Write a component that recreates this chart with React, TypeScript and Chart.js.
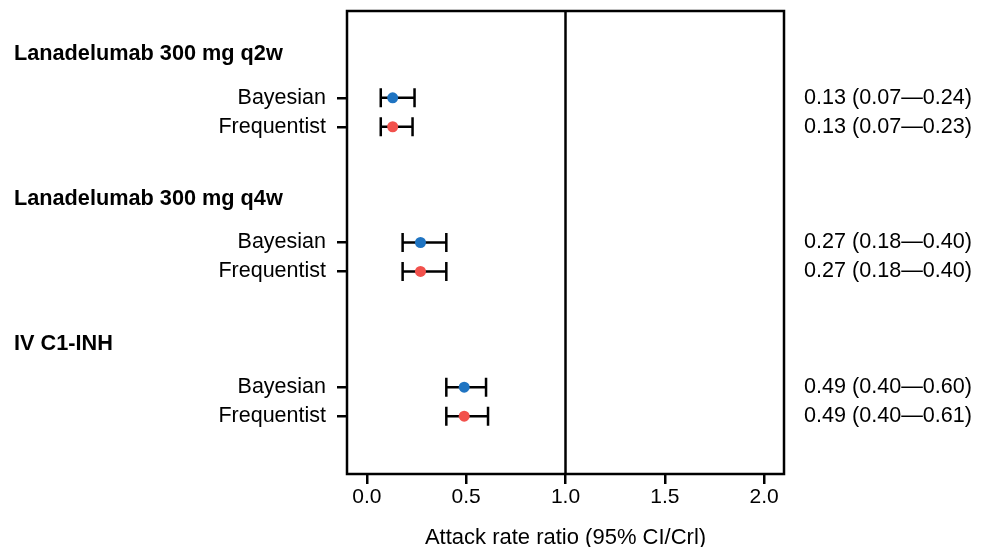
import React, { useEffect, useRef } from "react";
import { Chart, registerables } from "chart.js";

Chart.register(...registerables);

const groups = ["Lanadelumab 300 mg q2w", "Lanadelumab 300 mg q4w", "IV C1-INH"];
const methods = ["Bayesian", "Frequentist"];
const bayesEst = [0.13, 0.27, 0.49];
const bayesLo = [0.07, 0.18, 0.4];
const bayesHi = [0.24, 0.4, 0.6];
const freqEst = [0.13, 0.27, 0.49];
const freqLo = [0.07, 0.18, 0.4];
const freqHi = [0.23, 0.4, 0.61];
const xTicks = [0, 0.5, 1, 1.5, 2];
const xTitle = "Attack rate ratio (95% CI/Crl)";

const FONT = "'Liberation Sans', Arial, Helvetica, sans-serif";
const BLUE = "#1f74c2";
const RED = "#f2514c";

const groupRow = (g: number) => g * 5 + 1.5;
const methodRow = (g: number, m: number) => g * 5 + 3 + m;

type Pt = { x: number; y: number; lo: number; hi: number; label: string };

function buildPoints(est: number[], lo: number[], hi: number[], m: number): Pt[] {
  return est.map((e, g) => ({
    x: e,
    y: methodRow(g, m),
    lo: lo[g],
    hi: hi[g],
    label: `${e.toFixed(2)} (${lo[g].toFixed(2)}\u2014${hi[g].toFixed(2)})`,
  }));
}

const forestPlugin = {
  id: "forest",
  beforeDatasetsDraw(chart: any) {
    const { ctx, chartArea, scales } = chart;
    const xs = scales.x;
    const ys = scales.y;
    ctx.save();
    ctx.strokeStyle = "#000";
    ctx.lineWidth = 2.5;
    ctx.beginPath();
    const x1 = xs.getPixelForValue(1);
    ctx.moveTo(x1, chartArea.top);
    ctx.lineTo(x1, chartArea.bottom);
    ctx.stroke();
    ctx.lineWidth = 2.5;
    chart.data.datasets.forEach((ds: any) => {
      ds.data.forEach((p: Pt) => {
        const y = ys.getPixelForValue(p.y);
        const a = xs.getPixelForValue(p.lo);
        const b = xs.getPixelForValue(p.hi);
        ctx.beginPath();
        ctx.moveTo(a, y);
        ctx.lineTo(b, y);
        ctx.moveTo(a, y - 9.5);
        ctx.lineTo(a, y + 9.5);
        ctx.moveTo(b, y - 9.5);
        ctx.lineTo(b, y + 9.5);
        ctx.stroke();
      });
    });
    ctx.restore();
  },
  afterDraw(chart: any) {
    const { ctx, chartArea, scales } = chart;
    const ys = scales.y;
    ctx.save();
    ctx.strokeStyle = "#000";
    ctx.lineWidth = 2.5;
    ctx.strokeRect(chartArea.left, chartArea.top, chartArea.right - chartArea.left, chartArea.bottom - chartArea.top);
    ctx.fillStyle = "#000";
    ctx.textBaseline = "middle";
    ctx.textAlign = "left";
    ctx.font = `bold 21.7px ${FONT}`;
    groups.forEach((g, i) => {
      ctx.fillText(g, 14, ys.getPixelForValue(groupRow(i)));
    });
    ctx.font = `21.6px ${FONT}`;
    chart.data.datasets.forEach((ds: any) => {
      ds.data.forEach((p: Pt) => {
        ctx.fillText(p.label, chartArea.right + 20, ys.getPixelForValue(p.y));
      });
    });
    ctx.restore();
  },
};

export default function App() {
  const ref = useRef<HTMLCanvasElement>(null);
  useEffect(() => {
    if (!ref.current) return;
    const rowLabels: Record<number, string> = {};
    groups.forEach((_, g) => methods.forEach((m, mi) => (rowLabels[methodRow(g, mi)] = m)));
    const chart = new Chart(ref.current, {
      type: "scatter",
      data: {
        datasets: [
          {
            label: methods[0],
            data: buildPoints(bayesEst, bayesLo, bayesHi, 0) as any,
            backgroundColor: BLUE,
            borderColor: BLUE,
            pointRadius: 5.5,
            borderWidth: 0,
          },
          {
            label: methods[1],
            data: buildPoints(freqEst, freqLo, freqHi, 1) as any,
            backgroundColor: RED,
            borderColor: RED,
            pointRadius: 5.5,
            borderWidth: 0,
          },
        ],
      },
      options: {
        animation: false,
        responsive: false,
        maintainAspectRatio: false,
        layout: { padding: { left: 0, right: 204, top: 11, bottom: 0 } },
        plugins: { legend: { display: false }, tooltip: { enabled: false } },
        scales: {
          x: {
            type: "linear",
            min: -0.1,
            max: 2.1,
            afterBuildTicks: (s: any) => {
              s.ticks = xTicks.map((v) => ({ value: v }));
            },
            afterFit: (s: any) => {
              s.height = 73;
              s.paddingLeft = 0;
              s.paddingRight = 0;
            },
            ticks: {
              color: "#000",
              font: { family: FONT, size: 21 },
              padding: 1,
              callback: (v: any) => Number(v).toFixed(1),
              maxRotation: 0,
              autoSkip: false,
            },
            grid: { display: true, drawOnChartArea: false, drawTicks: true, tickLength: 10, color: "#000", lineWidth: 2.5 },
            border: { display: false },
            title: {
              display: true,
              text: xTitle,
              color: "#000",
              font: { family: FONT, size: 22 },
              padding: { top: 0, bottom: -4 },
            },
          },
          y: {
            type: "linear",
            reverse: true,
            min: 0,
            max: 16,
            afterBuildTicks: (s: any) => {
              s.ticks = Object.keys(rowLabels).map((k) => ({ value: Number(k) }));
            },
            afterFit: (s: any) => {
              s.width = 347;
              s.paddingTop = 0;
              s.paddingBottom = 0;
            },
            ticks: {
              color: "#000",
              font: { family: FONT, size: 21.5 },
              padding: 11,
              autoSkip: false,
              callback: (v: any) => rowLabels[Number(v)] ?? "",
            },
            grid: { display: true, drawOnChartArea: false, drawTicks: true, tickLength: 10, color: "#000", lineWidth: 2.5 },
            border: { display: false },
          },
        },
      },
      plugins: [forestPlugin],
    });
    return () => chart.destroy();
  }, []);
  return (
    <div style={{ position: "fixed", left: 0, top: 0, width: 988, height: 547, background: "#fff" }}>
      <canvas ref={ref} width={988} height={547} style={{ display: "block" }} />
    </div>
  );
}
